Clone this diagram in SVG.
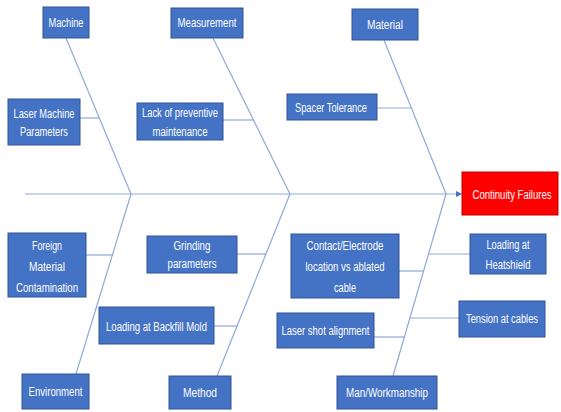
<svg xmlns="http://www.w3.org/2000/svg" width="561" height="412" viewBox="0 0 561 412">
<defs>
<style>
.box{fill:#4472C4;stroke:#2F5597;stroke-width:1}
.red{fill:#FF0000;stroke:#C00000;stroke-width:1}
.t{font-family:"Liberation Sans",Arial,sans-serif;font-size:12.5px;fill:#FFFFFF}
.ln{stroke:#8EA9DB;stroke-width:1.2;fill:none}
</style>
<marker id="ah" viewBox="0 0 6 6" refX="5" refY="3" markerWidth="5" markerHeight="5" orient="auto" markerUnits="strokeWidth">
<path d="M0,0 L6,3 L0,6 z" fill="#4472C4"/>
</marker>
</defs>
<rect width="561" height="412" fill="#FFFFFF"/>
<g id="connectors">
<line class="ln" x1="25" y1="194" x2="461" y2="194" marker-end="url(#ah)"/>
<line class="ln" x1="66" y1="38" x2="131" y2="194"/>
<line class="ln" x1="131" y1="194" x2="76" y2="374"/>
<line class="ln" x1="213" y1="38" x2="290" y2="194"/>
<line class="ln" x1="290" y1="194" x2="217" y2="376"/>
<line class="ln" x1="384" y1="40" x2="446" y2="194"/>
<line class="ln" x1="446" y1="194" x2="393" y2="376"/>
<line class="ln" x1="80" y1="118" x2="99" y2="118"/>
<line class="ln" x1="223" y1="120" x2="253" y2="120"/>
<line class="ln" x1="377" y1="108" x2="411" y2="108"/>
<line class="ln" x1="86" y1="255" x2="112" y2="255"/>
<line class="ln" x1="237" y1="254" x2="266" y2="254"/>
<line class="ln" x1="214" y1="326" x2="237" y2="326"/>
<line class="ln" x1="399" y1="271" x2="424" y2="271"/>
<line class="ln" x1="429" y1="254" x2="470" y2="254"/>
<line class="ln" x1="410" y1="318" x2="459" y2="318"/>
<line class="ln" x1="374" y1="337" x2="404" y2="337"/>
</g>
<g id="machine"><rect class="box" x="43" y="7" width="46" height="31"/><text class="t" x="66" y="27" text-anchor="middle" textLength="35" lengthAdjust="spacingAndGlyphs">Machine</text></g>
<g id="measurement"><rect class="box" x="171" y="8" width="72" height="30"/><text class="t" x="207" y="27" text-anchor="middle" textLength="59" lengthAdjust="spacingAndGlyphs">Measurement</text></g>
<g id="material"><rect class="box" x="352" y="9" width="66" height="31"/><text class="t" x="385" y="29" text-anchor="middle" textLength="36" lengthAdjust="spacingAndGlyphs">Material</text></g>
<g id="laser-machine-parameters"><rect class="box" x="8" y="99" width="72" height="46"/><text class="t" text-anchor="middle"><tspan x="44" y="118" textLength="61" lengthAdjust="spacingAndGlyphs">Laser Machine</tspan><tspan x="44" y="136" textLength="48" lengthAdjust="spacingAndGlyphs">Parameters</tspan></text></g>
<g id="lack-of-preventive-maintenance"><rect class="box" x="137" y="103" width="86" height="37"/><text class="t" text-anchor="middle"><tspan x="180" y="117" textLength="76" lengthAdjust="spacingAndGlyphs">Lack of preventive</tspan><tspan x="180" y="136" textLength="55" lengthAdjust="spacingAndGlyphs">maintenance</tspan></text></g>
<g id="spacer-tolerance"><rect class="box" x="287" y="94" width="90" height="26"/><text class="t" x="331" y="112" text-anchor="middle" textLength="72" lengthAdjust="spacingAndGlyphs">Spacer Tolerance</text></g>
<g id="continuity-failures"><rect class="red" x="462" y="172" width="96" height="43"/><text class="t" x="512" y="199" text-anchor="middle" textLength="79" lengthAdjust="spacingAndGlyphs">Continuity Failures</text></g>
<g id="foreign-material-contamination"><rect class="box" x="8" y="233" width="78" height="64"/><text class="t" text-anchor="middle"><tspan x="47" y="250" textLength="30" lengthAdjust="spacingAndGlyphs">Foreign</tspan><tspan x="47" y="271" textLength="36" lengthAdjust="spacingAndGlyphs">Material</tspan><tspan x="47" y="292" textLength="62" lengthAdjust="spacingAndGlyphs">Contamination</tspan></text></g>
<g id="grinding-parameters"><rect class="box" x="147" y="236" width="90" height="37"/><text class="t" text-anchor="middle"><tspan x="192" y="250" textLength="37" lengthAdjust="spacingAndGlyphs">Grinding</tspan><tspan x="192" y="268" textLength="49" lengthAdjust="spacingAndGlyphs">parameters</tspan></text></g>
<g id="loading-at-backfill-mold"><rect class="box" x="99" y="307" width="115" height="37"/><text class="t" x="156.5" y="331" text-anchor="middle" textLength="101" lengthAdjust="spacingAndGlyphs">Loading at Backfill Mold</text></g>
<g id="environment"><rect class="box" x="22" y="374" width="67" height="35"/><text class="t" x="55.5" y="396" text-anchor="middle" textLength="54" lengthAdjust="spacingAndGlyphs">Environment</text></g>
<g id="method"><rect class="box" x="169" y="376" width="62" height="33"/><text class="t" x="200" y="397" text-anchor="middle" textLength="34" lengthAdjust="spacingAndGlyphs">Method</text></g>
<g id="contact-electrode"><rect class="box" x="291" y="234" width="108" height="64"/><text class="t" text-anchor="middle"><tspan x="345" y="250" textLength="77" lengthAdjust="spacingAndGlyphs">Contact/Electrode</tspan><tspan x="345" y="271" textLength="79" lengthAdjust="spacingAndGlyphs">location vs ablated</tspan><tspan x="345" y="292" textLength="22" lengthAdjust="spacingAndGlyphs">cable</tspan></text></g>
<g id="loading-at-heatshield"><rect class="box" x="470" y="234" width="76" height="40"/><text class="t" text-anchor="middle"><tspan x="508" y="249" textLength="43" lengthAdjust="spacingAndGlyphs">Loading at</tspan><tspan x="508" y="269" textLength="45" lengthAdjust="spacingAndGlyphs">Heatshield</tspan></text></g>
<g id="tension-at-cables"><rect class="box" x="459" y="301" width="86" height="36"/><text class="t" x="502" y="323" text-anchor="middle" textLength="72" lengthAdjust="spacingAndGlyphs">Tension at cables</text></g>
<g id="laser-shot-alignment"><rect class="box" x="277" y="313" width="97" height="35"/><text class="t" x="325.5" y="335" text-anchor="middle" textLength="88" lengthAdjust="spacingAndGlyphs">Laser shot alignment</text></g>
<g id="man-workmanship"><rect class="box" x="337" y="376" width="100" height="33"/><text class="t" x="387" y="397" text-anchor="middle" textLength="82" lengthAdjust="spacingAndGlyphs">Man/Workmanship</text></g>
</svg>
